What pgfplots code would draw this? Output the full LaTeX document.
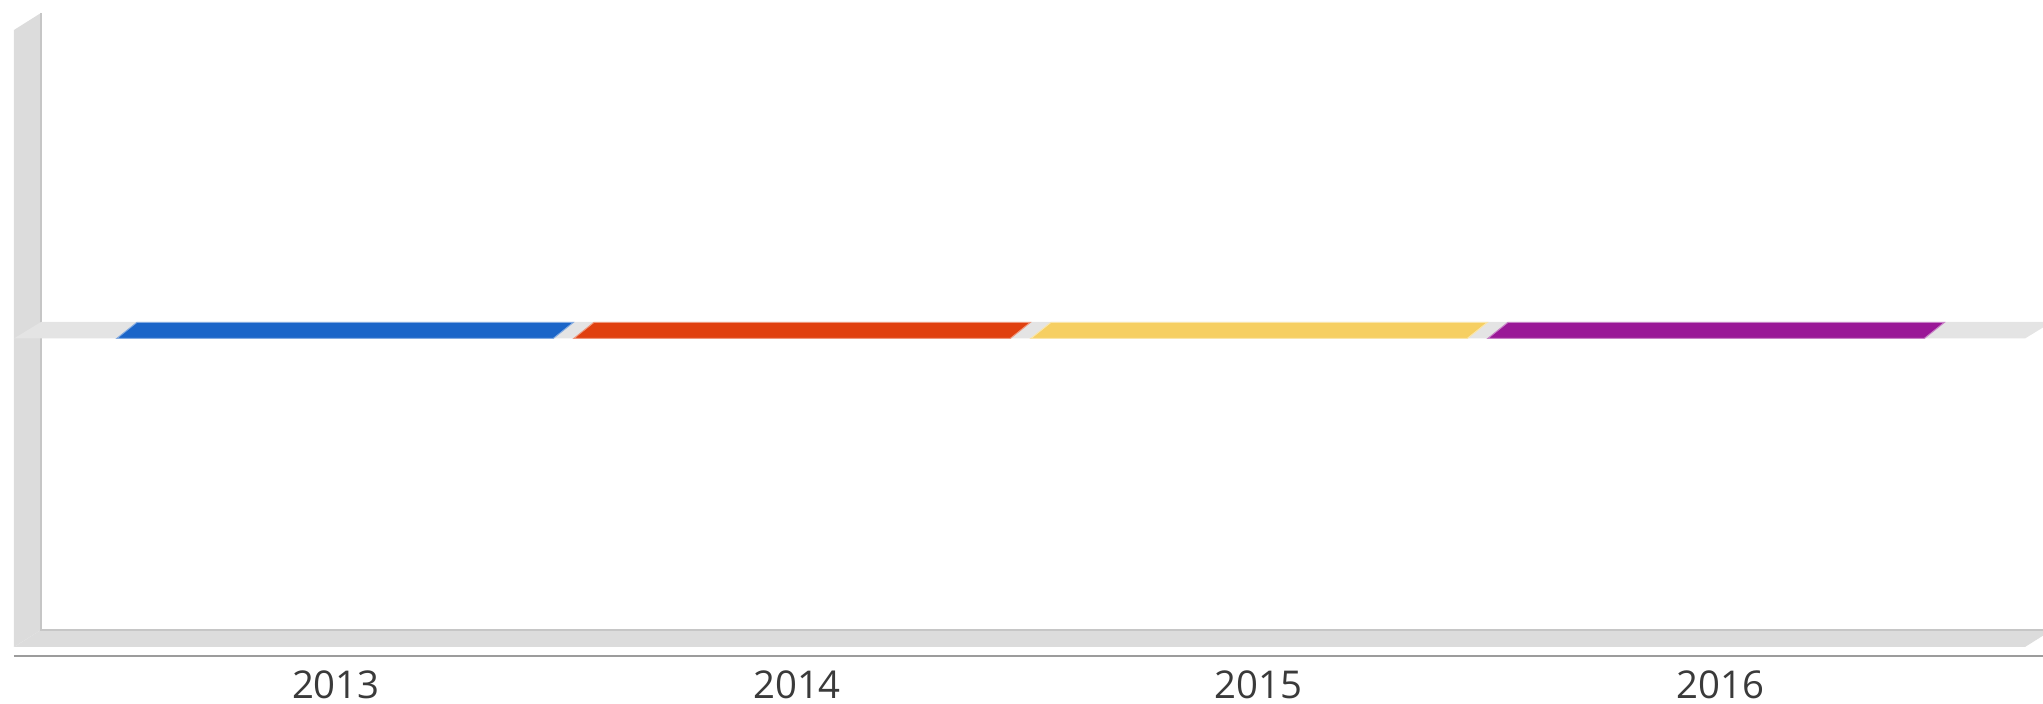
\documentclass[border=0pt]{standalone}
\usepackage{pgfplots}
\pgfplotsset{compat=1.18}
\usepackage{fontspec}
\setmainfont{Open Sans}

\definecolor{c13}{HTML}{1B65C8}
\definecolor{c14}{HTML}{E0400F}
\definecolor{c15}{HTML}{F6CF62}
\definecolor{c16}{HTML}{9A1897}
\definecolor{wall}{HTML}{DCDCDC}
\definecolor{walledge}{HTML}{C6C6C6}
\definecolor{band}{HTML}{E4E4E4}
\definecolor{axline}{HTML}{9C9C9C}
\definecolor{lbl}{HTML}{3A3A3A}

\begin{document}
\begin{tikzpicture}
\begin{axis}[
	scale only axis,
	width=603.3pt,
	height=185.1pt,
	xmin=-0.7024, xmax=3.698,
	ymin=-1, ymax=1,
	axis line style={draw=none},
	tick style={draw=none},
	clip=false,
	xtick={0.002,1.011,2.021,3.031},
	xticklabels={2013,2014,2015,2016},
	ytick=\empty,
	xticklabel style={anchor=north, inner sep=0pt, yshift=-6.9pt, text=lbl, font=\fontsize{11.5}{14}\selectfont},
]

% side wall and floor (depth 27px x 17px)
\addplot[fill=wall, draw=none] coordinates {(-0.7024,-1) (-0.7024,1) (-0.6433,1.0551) (-0.6433,-0.9449)} -- cycle;
\addplot[fill=wall, draw=none] coordinates {(-0.7024,-1) (3.698,-1) (3.7571,-0.9449) (-0.6433,-0.9449)} -- cycle;
\addplot[walledge, line width=0.6pt] coordinates {(-0.6433,1.0551) (-0.6433,-0.9449) (3.7571,-0.9449)};

% zero plane
\addplot[fill=band, draw=none] coordinates {(-0.7024,0) (3.698,0) (3.7571,0.0535) (-0.6433,0.0535)} -- cycle;

% bars, all values 0: only the top face shows
\addplot[fill=c13, draw=c13!55!white, line width=0.3pt] coordinates {(-0.4775,0) (0.4775,0) (0.5213,0.0519) (-0.4337,0.0519)} -- cycle;
\addplot[fill=c14, draw=c14!55!white, line width=0.3pt] coordinates {(0.5225,0) (1.4775,0) (1.5213,0.0519) (0.5663,0.0519)} -- cycle;
\addplot[fill=c15, draw=c15!55!white, line width=0.3pt] coordinates {(1.5225,0) (2.4775,0) (2.5213,0.0519) (1.5663,0.0519)} -- cycle;
\addplot[fill=c16, draw=c16!55!white, line width=0.3pt] coordinates {(2.5225,0) (3.4775,0) (3.5213,0.0519) (2.5663,0.0519)} -- cycle;

% base line
\addplot[axline, line width=0.6pt] coordinates {(-0.7024,-1.0292) (3.7374,-1.0292)};

\coordinate (bbsw) at (axis cs:-0.7330,-1.1848);
\coordinate (bbne) at (axis cs:3.7374,1.0972);
\end{axis}
\pgfresetboundingbox
\useasboundingbox (bbsw) rectangle (bbne);
\end{tikzpicture}
\end{document}
